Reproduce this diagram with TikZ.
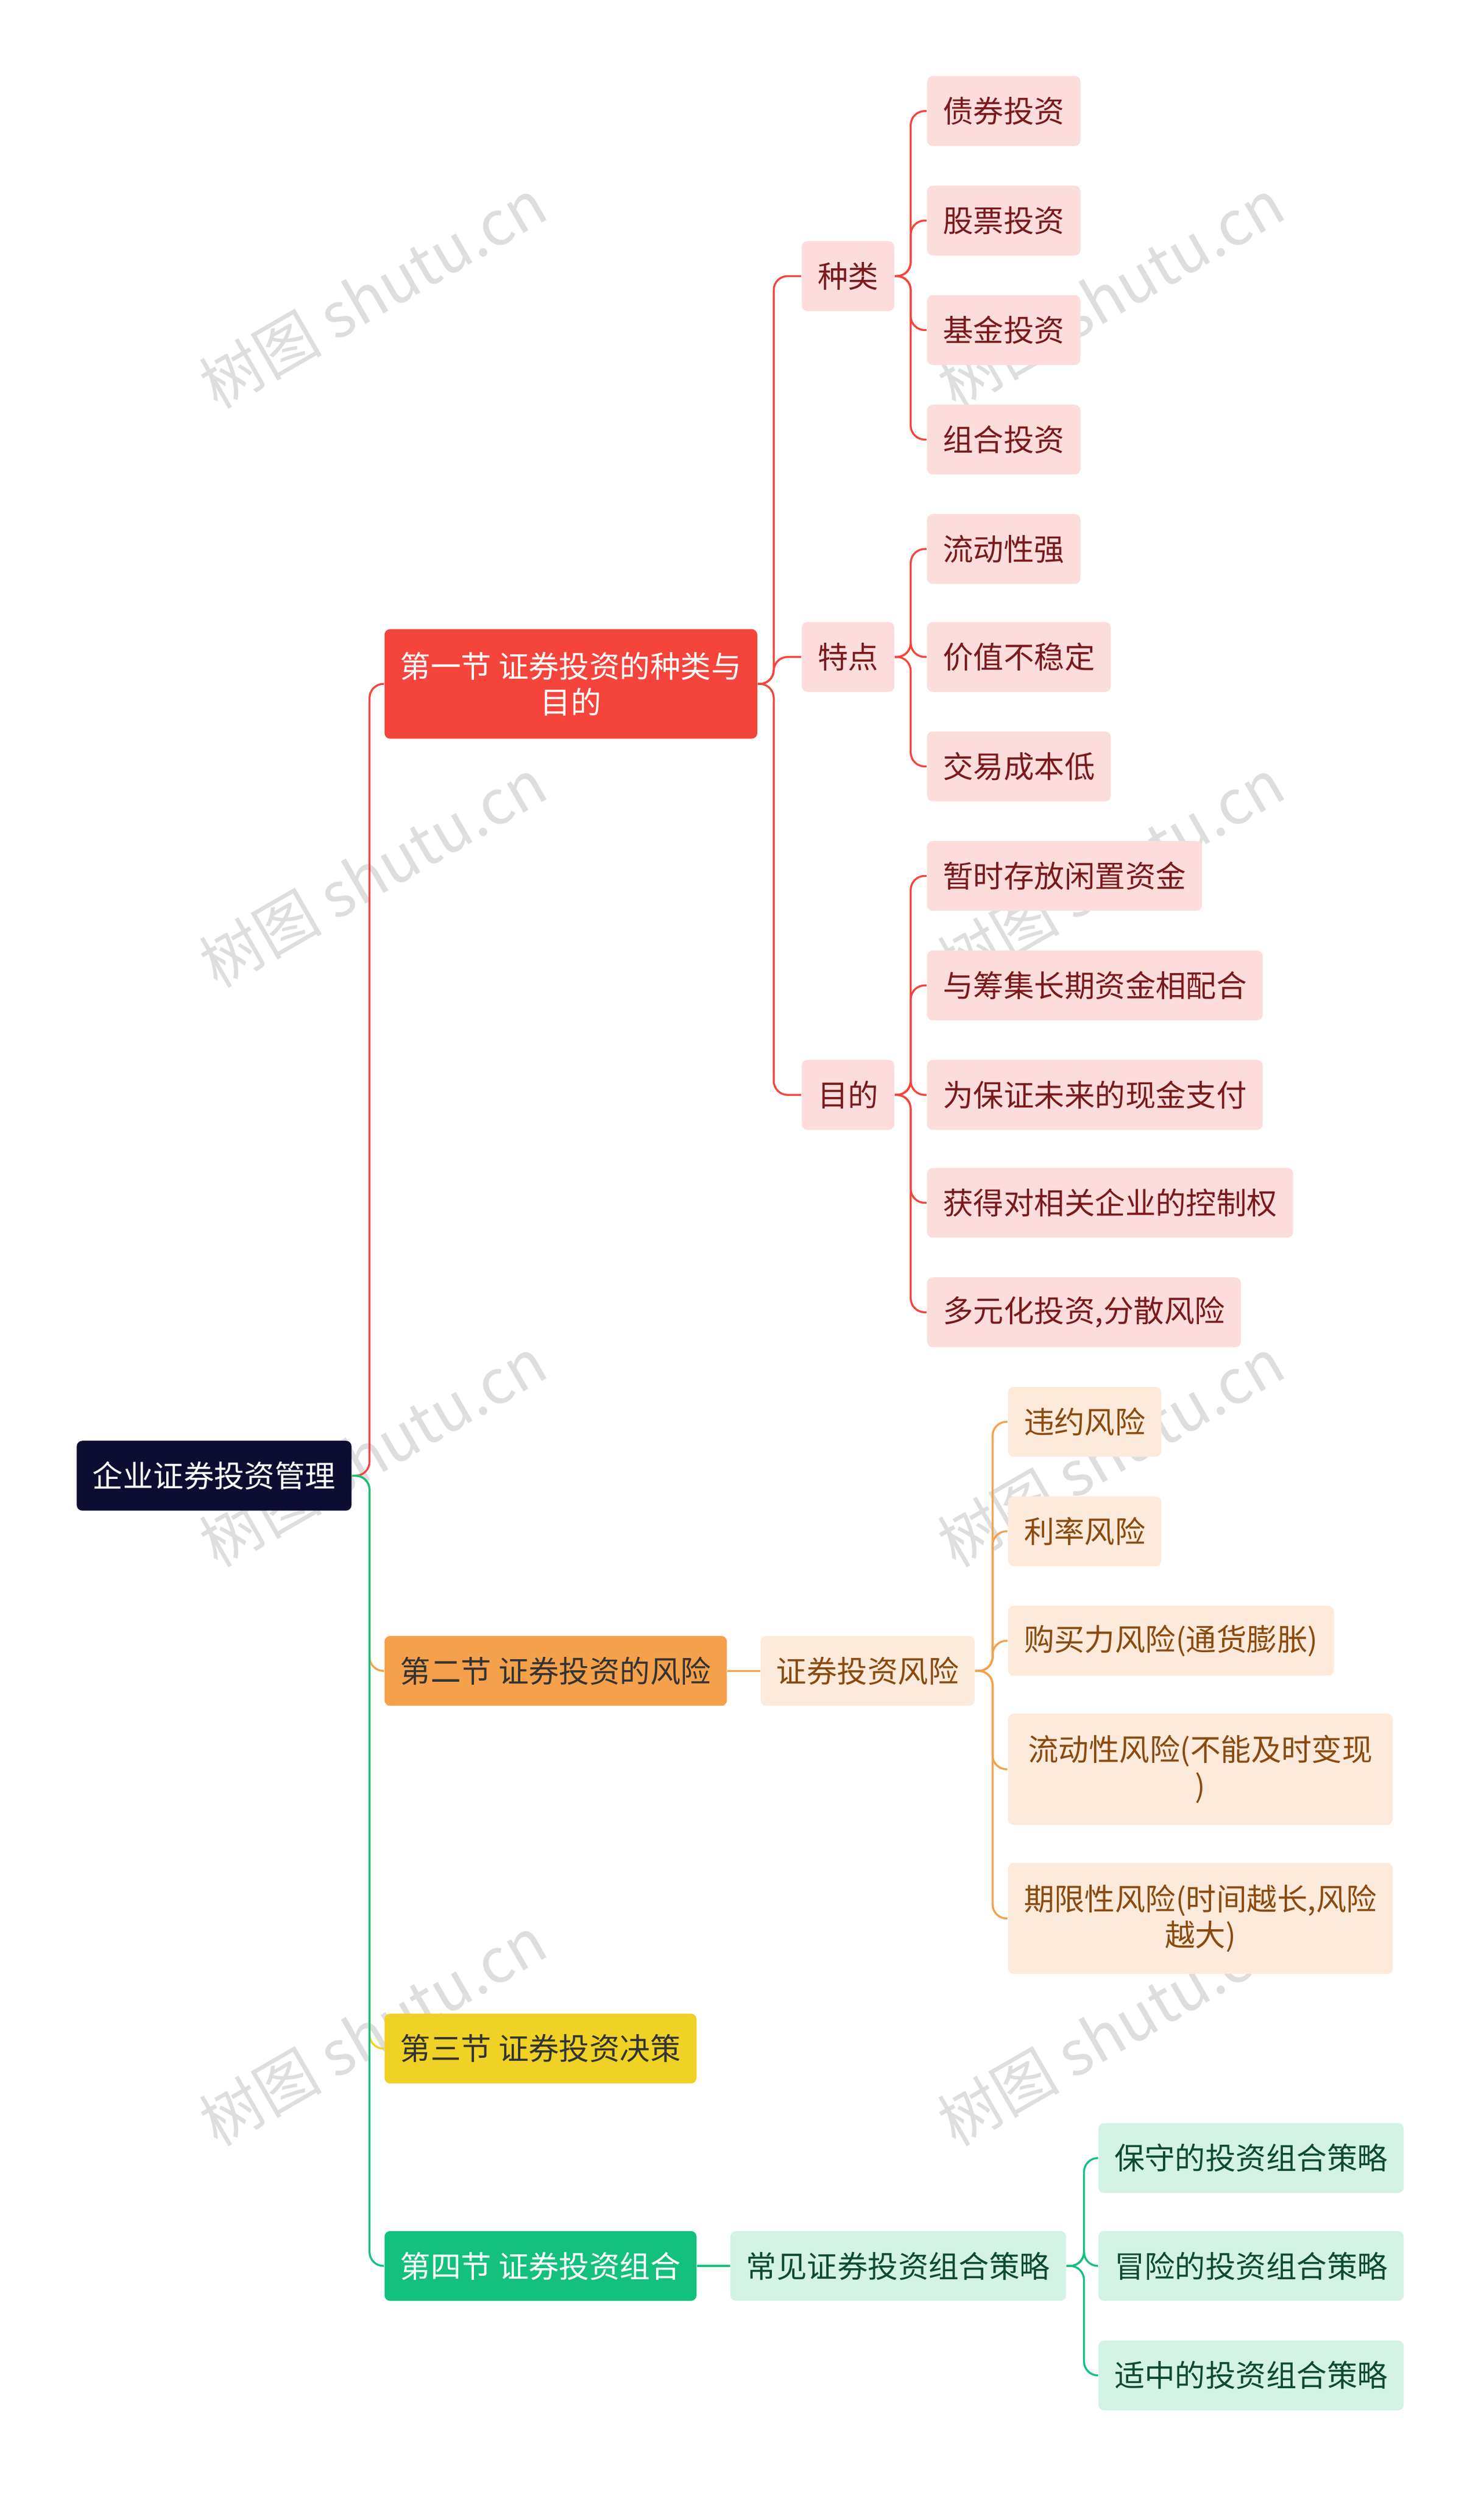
\documentclass[tikz,border=0pt]{standalone}
\usepackage{fontspec}
\newfontfamily\cjk{Noto Sans CJK SC}
\usetikzlibrary{positioning}

\definecolor{navy}{HTML}{0D0D33}
\definecolor{redmain}{HTML}{F5443B}
\definecolor{redsoft}{HTML}{FDDCDC}
\definecolor{redtext}{HTML}{7A1A1A}
\definecolor{orgmain}{HTML}{F5A04A}
\definecolor{orgsoft}{HTML}{FDEADB}
\definecolor{orgtext}{HTML}{8A4A10}
\definecolor{yelmain}{HTML}{F0D125}
\definecolor{grnmain}{HTML}{13C07E}
\definecolor{grnsoft}{HTML}{D2F3E5}
\definecolor{grntext}{HTML}{0E4A33}

\begin{document}
\begin{tikzpicture}[x=0.02cm, y=-0.02cm, cjk/.style={font=\cjk\fontsize{10.9}{13}\selectfont}]
		\tikzset{Box/.style={cjk, anchor=west, rounded corners=2pt, minimum height=0.88cm, inner xsep=0.2cm, align=center}}
		\tikzset{Root/.style={Box, fill=navy, text=white}}
		\tikzset{RedTop/.style={Box, fill=redmain, text=white}}
		\tikzset{RedSub/.style={Box, fill=redsoft, text=redtext}}
		\tikzset{OrgTop/.style={Box, fill=orgmain, text=black!80}}
		\tikzset{OrgSub/.style={Box, fill=orgsoft, text=orgtext}}
		\tikzset{YelTop/.style={Box, fill=yelmain, text=black!80}}
		\tikzset{GrnTop/.style={Box, fill=grnmain, text=white}}
		\tikzset{GrnSub/.style={Box, fill=grnsoft, text=grntext}}
		\tikzset{RedLine/.style={draw=redmain, line width=0.7pt, rounded corners=5pt}}
		\tikzset{OrgLine/.style={draw=orgmain, line width=0.7pt, rounded corners=5pt}}
		\tikzset{YelLine/.style={draw=yelmain, line width=0.7pt, rounded corners=5pt}}
		\tikzset{GrnLine/.style={draw=grnmain, line width=0.7pt, rounded corners=5pt}}
		\tikzset{Mark/.style={font=\cjk\fontsize{22}{24}\selectfont, text=black!13, rotate=30}}

		\useasboundingbox (0,0) rectangle (935,1573);

		% watermarks
		\foreach \wx/\wy in {235/185, 700/185, 235/550, 700/550, 235/915, 700/915, 235/1280, 700/1280}
			\node[Mark] at (\wx,\wy) {树图 shutu.cn};

		\node (root) at (48,930) [Root] {企业证券投资管理};

		\node (sec1) at (242,431) [RedTop, minimum height=1.38cm] {第一节 证券投资的种类与\\目的};
		\node (sec2) at (242,1053) [OrgTop] {第二节 证券投资的风险};
		\node (sec3) at (242,1291) [YelTop] {第三节 证券投资决策};
		\node (sec4) at (242,1428) [GrnTop] {第四节 证券投资组合};

		\node (kind) at (505,174) [RedSub] {种类};
		\node (feat) at (505,414) [RedSub] {特点};
		\node (goal) at (505,690) [RedSub] {目的};

		\node (k1) at (584,70)  [RedSub] {债券投资};
		\node (k2) at (584,139) [RedSub] {股票投资};
		\node (k3) at (584,208) [RedSub] {基金投资};
		\node (k4) at (584,277) [RedSub] {组合投资};
		\node (f1) at (584,346) [RedSub] {流动性强};
		\node (f2) at (584,414) [RedSub] {价值不稳定};
		\node (f3) at (584,483) [RedSub] {交易成本低};
		\node (g1) at (584,552) [RedSub] {暂时存放闲置资金};
		\node (g2) at (584,621) [RedSub] {与筹集长期资金相配合};
		\node (g3) at (584,690) [RedSub] {为保证未来的现金支付};
		\node (g4) at (584,758) [RedSub] {获得对相关企业的控制权};
		\node (g5) at (584,827) [RedSub] {多元化投资,分散风险};

		\node (risk) at (479,1053) [OrgSub] {证券投资风险};
		\node (r1) at (635,896)  [OrgSub] {违约风险};
		\node (r2) at (635,965)  [OrgSub] {利率风险};
		\node (r3) at (635,1034) [OrgSub] {购买力风险(通货膨胀)};
		\node (r4) at (635,1115) [OrgSub, minimum height=1.4cm, text width=4.45cm] {流动性风险(不能及时变现\\)};
		\node (r5) at (635,1209) [OrgSub, minimum height=1.4cm, text width=4.45cm] {期限性风险(时间越长,风险\\越大)};

		\node (plan) at (460,1428) [GrnSub] {常见证券投资组合策略};
		\node (p1) at (692,1360) [GrnSub] {保守的投资组合策略};
		\node (p2) at (692,1428) [GrnSub] {冒险的投资组合策略};
		\node (p3) at (692,1497) [GrnSub] {适中的投资组合策略};

		\draw [RedLine] (root.east) -- ++(11,0) |- (sec1.west);
		\draw [OrgLine] (root.east) -- ++(11,0) |- (sec2.west);
		\draw [YelLine] (root.east) -- ++(11,0) |- (sec3.west);
		\draw [GrnLine] (root.east) -- ++(11,0) |- (sec4.west);

		\foreach \c in {kind, feat, goal}
			\draw [RedLine] (sec1.east) -- ++(10,0) |- (\c.west);
		\foreach \c in {k1, k2, k3, k4}
			\draw [RedLine] (kind.east) -- ++(10,0) |- (\c.west);
		\foreach \c in {f1, f2, f3}
			\draw [RedLine] (feat.east) -- ++(10,0) |- (\c.west);
		\foreach \c in {g1, g2, g3, g4, g5}
			\draw [RedLine] (goal.east) -- ++(10,0) |- (\c.west);

		\draw [OrgLine] (sec2.east) -- (risk.west);
		\foreach \c in {r1, r2, r3, r4, r5}
			\draw [OrgLine] (risk.east) -- ++(11,0) |- (\c.west);

		\draw [GrnLine] (sec4.east) -- (plan.west);
		\foreach \c in {p1, p2, p3}
			\draw [GrnLine] (plan.east) -- ++(11,0) |- (\c.west);
	\end{tikzpicture}
\end{document}
